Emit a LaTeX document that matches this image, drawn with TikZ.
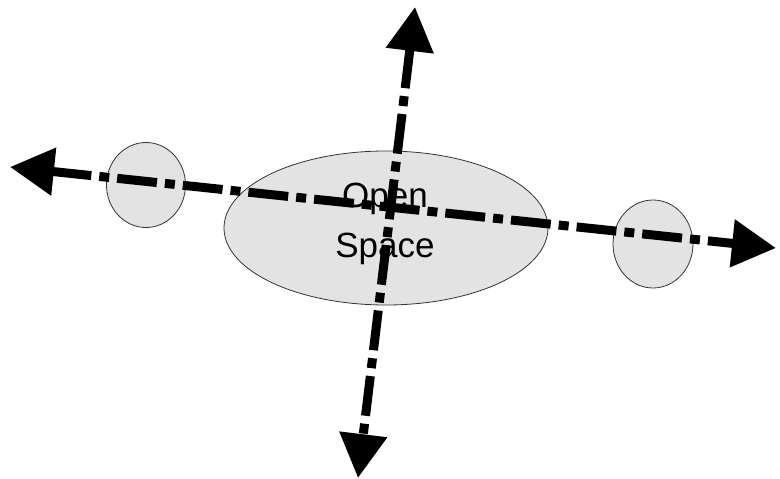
\documentclass[tikz,border=0pt]{standalone}
\usepackage{fontspec}
\setmainfont{Liberation Sans}
\usetikzlibrary{arrows.meta,shapes.geometric}
\begin{document}
\begin{tikzpicture}[x=1pt,y=-1pt,
  zone/.style={draw=black!80,line width=0.8pt,fill=gray!22},
  axis/.style={line width=9pt,dash pattern=on 40pt off 8pt on 10pt off 8pt,
    {Triangle[length=44pt,width=46pt]}-{Triangle[length=44pt,width=46pt]}},
  lbl/.style={font=\fontsize{35}{50}\selectfont,align=center,text=black}]
\useasboundingbox (0,0) rectangle (780,479);
\node[zone,ellipse,minimum width=324pt,minimum height=154pt,inner sep=0pt] (open) at (386,228) {};
\node[zone,ellipse,minimum width=79pt,minimum height=85pt,inner sep=0pt] (lc) at (146,185) {};
\node[zone,ellipse,minimum width=80pt,minimum height=88pt,inner sep=0pt] (rc) at (653,244) {};
\coordinate (west) at (10,167);
\coordinate (east) at (776,248);
\coordinate (north) at (415,7);
\coordinate (south) at (358,478);
\draw[axis] (west) -- (east);
\draw[axis] (north) -- (south);
\node[lbl] (txt) at (385,224) {Open\\Space};
\end{tikzpicture}
\end{document}
